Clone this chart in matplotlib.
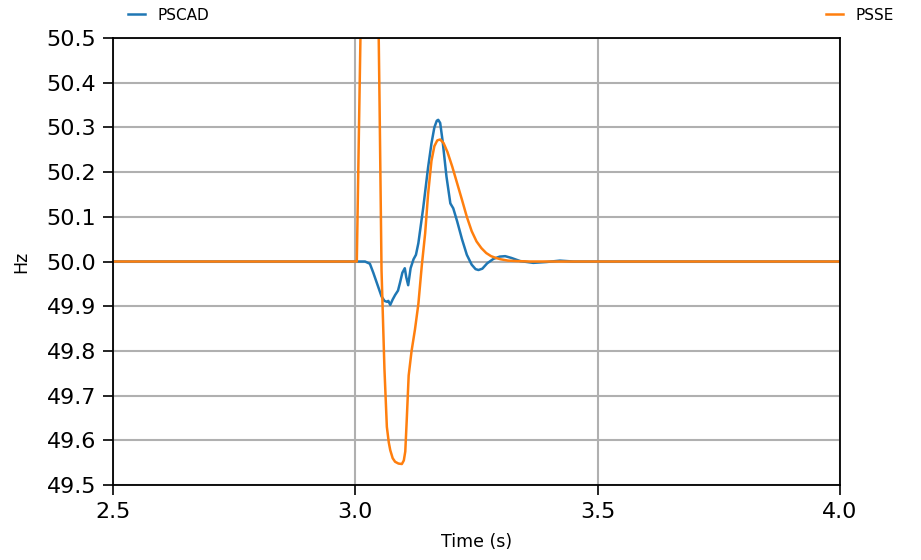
import numpy as np
import matplotlib.pyplot as plt

# PSCAD trace (time s, Hz)
pscad_t = [2.5, 3.0, 3.02, 3.03, 3.037, 3.045, 3.054, 3.06, 3.065, 3.068, 3.072, 3.077,
           3.082, 3.088, 3.092, 3.097, 3.102, 3.105, 3.109, 3.114, 3.120, 3.125, 3.130,
           3.140, 3.150, 3.157, 3.163, 3.168, 3.171, 3.175, 3.180, 3.188, 3.196, 3.202,
           3.210, 3.220, 3.230, 3.240, 3.248, 3.254, 3.262, 3.272, 3.285, 3.298, 3.309,
           3.322, 3.340, 3.367, 3.395, 3.422, 3.45, 4.0]
pscad_f = [50.0, 50.0, 50.0, 49.995, 49.975, 49.950, 49.922, 49.912, 49.910, 49.912, 49.903, 49.915,
           49.925, 49.935, 49.952, 49.975, 49.985, 49.965, 49.947, 49.985, 50.005, 50.015, 50.041,
           50.12, 50.21, 50.264, 50.300, 50.315, 50.317, 50.310, 50.270, 50.190, 50.130, 50.119,
           50.090, 50.050, 50.015, 49.993, 49.983, 49.981, 49.984, 49.996, 50.006, 50.011, 50.012,
           50.008, 50.001, 49.997, 49.999, 50.002, 50.0, 50.0]

# PSSE trace (time s, Hz)
psse_t = [2.5, 3.003, 3.012, 3.02, 3.03, 3.04, 3.047, 3.050, 3.054, 3.060, 3.065, 3.069,
          3.072, 3.077, 3.082, 3.089, 3.096, 3.100, 3.103, 3.106, 3.110, 3.116, 3.123,
          3.130, 3.137, 3.144, 3.150, 3.157, 3.163, 3.169, 3.175, 3.182, 3.190, 3.200,
          3.210, 3.220, 3.230, 3.240, 3.250, 3.260, 3.270, 3.280, 3.290, 3.300, 3.315,
          3.333, 3.36, 4.0]
psse_f = [50.0, 50.0, 50.6, 50.9, 51.0, 50.9, 50.6, 50.35, 49.98, 49.76, 49.630, 49.595,
          49.578, 49.560, 49.552, 49.548, 49.547, 49.555, 49.575, 49.645, 49.745, 49.800, 49.848,
          49.905, 49.990, 50.063, 50.150, 50.225, 50.258, 50.271, 50.273, 50.265, 50.245, 50.212,
          50.175, 50.138, 50.100, 50.068, 50.045, 50.030, 50.019, 50.012, 50.008, 50.005, 50.002,
          50.001, 50.0, 50.0]

fig = plt.figure(figsize=(9.21, 5.6), dpi=100)
ax = fig.add_axes([0.1227, 0.1339, 0.7894, 0.7982])

ax.plot(pscad_t, pscad_f, color='#1f77b4', lw=1.8, label='PSCAD')
ax.plot(psse_t, psse_f, color='#ff7f0e', lw=1.8, label='PSSE')

ax.set_xlim(2.5, 4.0)
ax.set_ylim(49.5, 50.5)
ax.set_xticks([2.5, 3.0, 3.5, 4.0])
ax.set_yticks(np.round(np.arange(49.5, 50.51, 0.1), 1))
ax.yaxis.set_major_formatter(plt.FormatStrFormatter('%.1f'))
ax.tick_params(labelsize=16, length=7, width=1.2, pad=5)
ax.grid(True, color='#b0b0b0', lw=1.5)
ax.set_axisbelow(True)
for s in ax.spines.values():
    s.set_linewidth(1.3)

ax.set_xlabel('Time (s)', fontsize=12.5, labelpad=8)
ax.set_ylabel('Hz', fontsize=12.5, labelpad=12)

ax.legend(loc='lower left', bbox_to_anchor=(0, 1.0, 1.095, 0.1), mode='expand',
          ncol=2, frameon=False, fontsize=11, handlelength=1.1, borderaxespad=0.6)

fig.savefig('out.png', dpi=100)
